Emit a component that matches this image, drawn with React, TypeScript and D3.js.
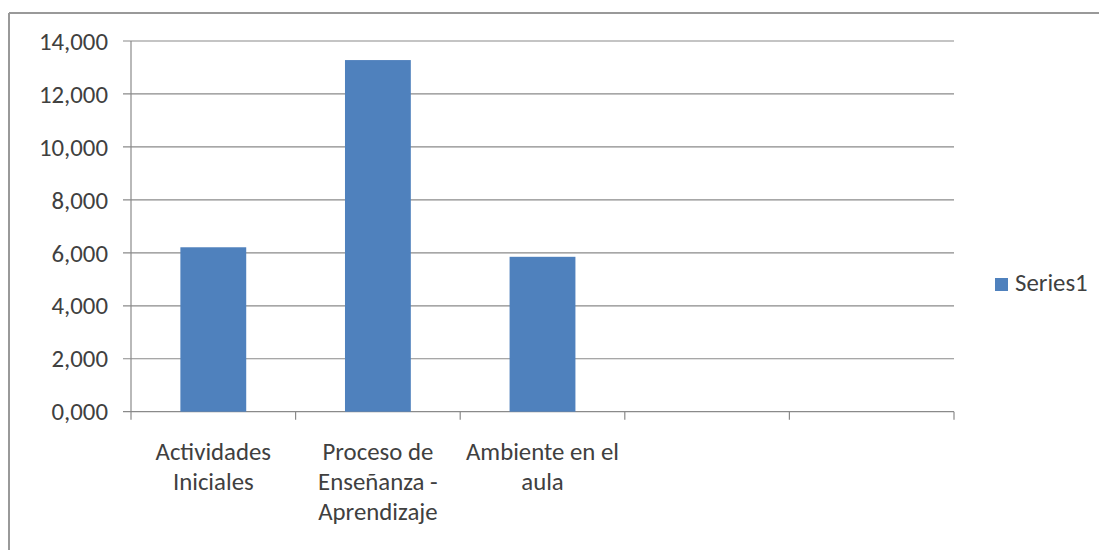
import React from "react";
import * as d3 from "d3";

const categories = ["Actividades Iniciales", "Proceso de Enseñanza - Aprendizaje", "Ambiente en el aula", "", ""];
const categoryLines = [["Actividades", "Iniciales"], ["Proceso de", "Enseñanza -", "Aprendizaje"], ["Ambiente en el", "aula"], [], []];
const series1 = [6.21, 13.28, 5.85, null, null];
const yTicks = [0, 2, 4, 6, 8, 10, 12, 14];
const seriesName = "Series1";

const W = 1099, H = 550;
const left = 131, right = 954, top = 41, bottom = 411.7;
const FONT = "Carlito, Calibri, Lato, sans-serif";
const FS = 24.8;
const TEXT = "#404040";
const GRID = "#8a8a8a";
const BAR = "#4F81BD";

const locale = d3.formatLocale({ decimal: ",", thousands: ".", grouping: [3], currency: ["", ""] });
const fmt = locale.format(".3f");

export default function App() {
  const x = d3.scaleBand<number>().domain(d3.range(categories.length)).range([left, right]).paddingInner(0.6).paddingOuter(0.3);
  const xb = d3.scaleBand<number>().domain(d3.range(categories.length)).range([left, right]).padding(0);
  const y = d3.scaleLinear().domain([0, 14]).range([bottom, top]);
  const boundaries = d3.range(categories.length + 1).map((i) => left + i * xb.step());

  return (
    <svg width={W} height={H} style={{ position: "absolute", left: 0, top: 0, background: "#fff" }} fontFamily={FONT}>
      <rect x={0} y={0} width={W} height={H} fill="#fff" />
      {/* outer border */}
      <line x1={9} y1={13} x2={W} y2={13} stroke="#999" strokeWidth={2} />
      <line x1={9} y1={13} x2={9} y2={H} stroke="#999" strokeWidth={2} />
      {/* gridlines and y ticks */}
      {yTicks.map((t) => (
        <g key={t}>
          <line x1={left - 8} x2={right} y1={y(t)} y2={y(t)} stroke={GRID} strokeWidth={1.2} />
          <text x={108} y={y(t)} dy="0.35em" textAnchor="end" fontSize={FS} fill={TEXT}>
            {fmt(t)}
          </text>
        </g>
      ))}
      {/* y axis */}
      <line x1={left} x2={left} y1={top} y2={bottom} stroke={GRID} strokeWidth={1.2} />
      {/* x ticks */}
      {boundaries.map((b, i) => (
        <line key={i} x1={b} x2={b} y1={bottom} y2={bottom + 8} stroke={GRID} strokeWidth={1.2} />
      ))}
      {/* bars */}
      {series1.map((v, i) =>
        v == null ? null : (
          <rect key={i} x={x(i)} y={y(v)} width={x.bandwidth()} height={y(0) - y(v)} fill={BAR} />
        )
      )}
      {/* category labels */}
      {categoryLines.map((lines, i) => (
        <text key={i} textAnchor="middle" fontSize={FS} fill={TEXT}>
          {lines.map((ln, j) => (
            <tspan key={j} x={xb(i)! + xb.bandwidth() / 2} y={460 + j * 30}>
              {ln}
            </tspan>
          ))}
        </text>
      ))}
      {/* legend */}
      <rect x={995} y={278} width={13} height={13} fill={BAR} />
      <text x={1015} y={291} fontSize={FS} fill={TEXT}>
        {seriesName}
      </text>
    </svg>
  );
}
